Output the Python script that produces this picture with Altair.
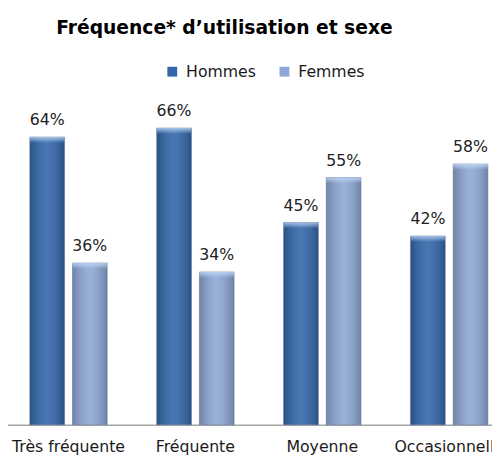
import altair as alt
import pandas as pd

categories = ["Très fréquente", "Fréquente", "Moyenne", "Occasionnelle"]
series = ["Hommes", "Femmes"]
hommes = [64, 66, 45, 42]
femmes = [36, 34, 55, 58]
colors = ["#3266ab", "#8ea7d6"]

rows = []
for c, h, f in zip(categories, hommes, femmes):
    rows.append({"cat": c, "sexe": "Hommes", "val": h, "lab": f"{h}%"})
    rows.append({"cat": c, "sexe": "Femmes", "val": f, "lab": f"{f}%"})
df = pd.DataFrame(rows)

FONT = "DejaVu Sans"

x = alt.X(
    "cat:N",
    sort=categories,
    scale=alt.Scale(range=[-3, 513], paddingInner=0, paddingOuter=0),
    axis=alt.Axis(
        title=None, labelAngle=0, ticks=False, tickSize=0,
        domainColor="#a6a6a6", domainWidth=1.5,
        labelFont=FONT, labelFontSize=16, labelColor="#1a1a1a",
        labelBaseline="alphabetic", labelPadding=27, labelOverlap=False,
    ),
)
xo = alt.XOffset(
    "sexe:N", sort=series,
    scale=alt.Scale(domain=series, paddingInner=0.186, paddingOuter=0.58),
)
y = alt.Y("val:Q", scale=alt.Scale(domain=[0, 70]), axis=None)

base = alt.Chart(df)

bars = base.mark_bar().encode(
    x=x, xOffset=xo, y=y,
    color=alt.Color(
        "sexe:N", sort=series,
        scale=alt.Scale(domain=series, range=colors),
        legend=alt.Legend(
            title=None, orient="none", direction="horizontal",
            legendX=159, legendY=-47,
            symbolType="square", symbolSize=100, symbolStrokeWidth=0,
            labelFont=FONT, labelFontSize=16, labelColor="#1a1a1a",
            labelOffset=6, columnPadding=20,
        ),
    ),
)

shade = base.mark_bar(
    fill=alt.Gradient(
        gradient="linear",
        stops=[
            alt.GradientStop(color="rgba(0,0,0,0.22)", offset=0),
            alt.GradientStop(color="rgba(255,255,255,0.10)", offset=0.5),
            alt.GradientStop(color="rgba(0,0,0,0.22)", offset=1),
        ],
        x1=0, x2=1, y1=0, y2=0,
    ),
    stroke="#5a6f90", strokeOpacity=0.5, strokeWidth=1,
).encode(x=x, xOffset=xo, y=y)

bevel = base.transform_calculate(top2="datum.val - 1.3").mark_bar(
    fill=alt.Gradient(
        gradient="linear",
        stops=[
            alt.GradientStop(color="rgba(200,225,255,0.75)", offset=0),
            alt.GradientStop(color="rgba(200,225,255,0.0)", offset=1),
        ],
        x1=0, x2=0, y1=0, y2=1,
    ),
).encode(x=x, xOffset=xo, y=y, y2="top2:Q")

labels = base.mark_text(
    dy=-12, baseline="alphabetic", font=FONT, fontSize=16, color="#222222"
).encode(x=x, xOffset=xo, y=y, text="lab:N")

chart = alt.layer(bars, shade, bevel, labels).properties(
    width=492,
    height=320,
    autosize=alt.AutoSizeParams(type="none"),
    padding={"left": 0, "top": 100, "right": 0, "bottom": 33},
    title=alt.TitleParams(
        "Fréquence* d’utilisation et sexe",
        font=FONT, fontSize=19, fontWeight="bold", color="#000000",
        anchor="start", dx=49, offset=26,
    ),
).configure_view(stroke=None)

chart.save("out.html", embed_options={"renderer": "svg", "actions": False})
